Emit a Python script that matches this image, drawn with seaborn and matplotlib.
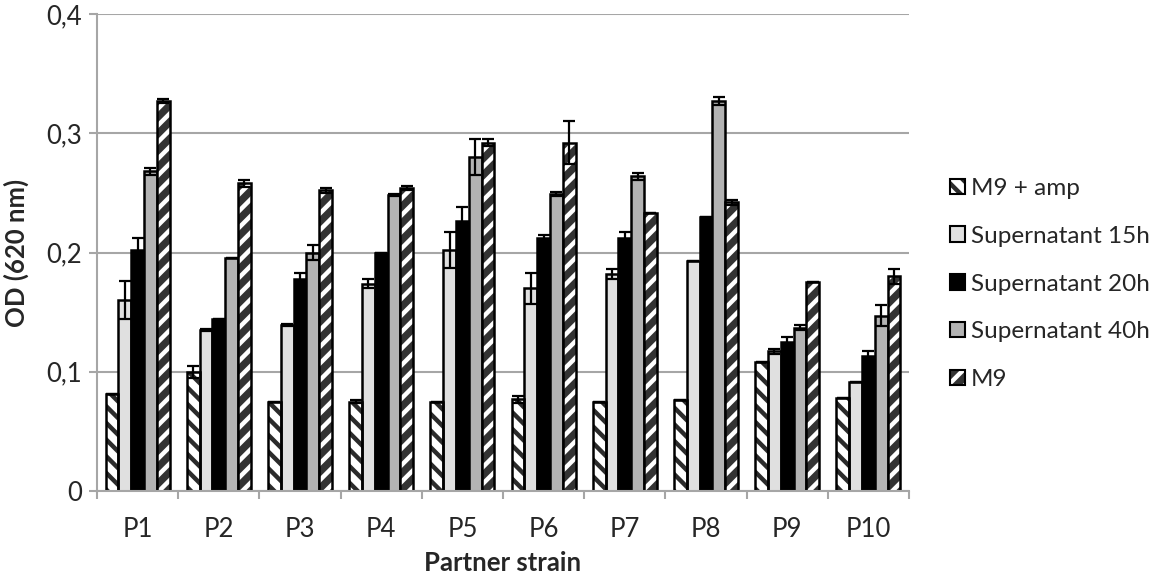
import numpy as np
import pandas as pd
import matplotlib
matplotlib.use("Agg")
import matplotlib.pyplot as plt
import seaborn as sns
from matplotlib.patches import Patch, Rectangle
from matplotlib.legend_handler import HandlerTuple
from matplotlib.ticker import FuncFormatter, FixedLocator

strains = ["P1", "P2", "P3", "P4", "P5", "P6", "P7", "P8", "P9", "P10"]
series = ["M9 + amp", "Supernatant 15h", "Supernatant 20h", "Supernatant 40h", "M9"]

m9_amp = [0.081, 0.100, 0.075, 0.075, 0.075, 0.077, 0.075, 0.076, 0.108, 0.078]
sup_15h = [0.160, 0.135, 0.139, 0.174, 0.202, 0.170, 0.182, 0.193, 0.117, 0.091]
sup_20h = [0.202, 0.144, 0.178, 0.200, 0.226, 0.212, 0.212, 0.230, 0.125, 0.113]
sup_40h = [0.268, 0.195, 0.200, 0.248, 0.280, 0.249, 0.264, 0.327, 0.137, 0.147]
m9 = [0.327, 0.258, 0.252, 0.254, 0.292, 0.292, 0.233, 0.242, 0.175, 0.180]

err_m9_amp = [0.0, 0.005, 0.0, 0.001, 0.0, 0.003, 0.0, 0.0, 0.0, 0.0]
err_15h = [0.016, 0.001, 0.001, 0.004, 0.015, 0.013, 0.004, 0.0, 0.002, 0.0]
err_20h = [0.010, 0.0, 0.005, 0.0, 0.012, 0.003, 0.005, 0.0, 0.004, 0.004]
err_40h = [0.003, 0.0, 0.006, 0.001, 0.015, 0.002, 0.003, 0.003, 0.002, 0.009]
err_m9 = [0.002, 0.003, 0.002, 0.002, 0.003, 0.018, 0.0, 0.002, 0.0, 0.006]

values = [m9_amp, sup_15h, sup_20h, sup_40h, m9]
errors = [err_m9_amp, err_15h, err_20h, err_40h, err_m9]

df = pd.DataFrame({
    "strain": np.tile(strains, len(series)),
    "series": np.repeat(series, len(strains)),
    "od": np.concatenate(values),
})

sns.set_style("white")
FONT = ["Lato", "DejaVu Sans"]
plt.rcParams["font.family"] = FONT
plt.rcParams["hatch.linewidth"] = 3.2
FS = 18.5

fig = plt.figure(figsize=(11.74, 5.85), dpi=100)
ax = fig.add_axes([97 / 1174, 1 - 491 / 585, (909 - 97) / 1174, (491 - 14) / 585])

sns.barplot(data=df, x="strain", y="od", hue="series", order=strains,
            hue_order=series, errorbar=None, width=0.79, ax=ax,
            legend=False, saturation=1)

styles = [
    dict(face="white", hatch_col="#2b2b2b", hatch="\\\\"),
    dict(face="#e0e0e0", hatch_col=None, hatch=None),
    dict(face="black", hatch_col=None, hatch=None),
    dict(face="#b3b3b3", hatch_col=None, hatch=None),
    dict(face="#333333", hatch_col="white", hatch="//"),
]

for cont, st, errs in zip(ax.containers, styles, errors):
    xs, hs = [], []
    for p in cont.patches:
        p.set_facecolor(st["face"])
        if st["hatch"]:
            p.set_hatch(st["hatch"])
            p.set_edgecolor(st["hatch_col"])
            p.set_linewidth(0)
            outline = Rectangle(p.get_xy(), p.get_width(), p.get_height(),
                                fill=False, edgecolor="black", linewidth=1.8,
                                zorder=p.get_zorder() + 0.1)
            ax.add_patch(outline)
        else:
            p.set_edgecolor("black")
            p.set_linewidth(1.8)
        xs.append(p.get_x() + p.get_width() / 2)
        hs.append(p.get_height())
    ax.errorbar(xs, hs, yerr=errs, fmt="none", ecolor="black", elinewidth=1.6,
                capsize=4, capthick=1.6, zorder=5)

ax.set_ylim(0, 0.4)
ax.set_xlim(-0.5, len(strains) - 0.5)
ax.set_yticks([0, 0.1, 0.2, 0.3, 0.4])
ax.yaxis.set_major_formatter(FuncFormatter(lambda v, _: "0" if v == 0 else f"{v:.1f}".replace(".", ",")))
ax.grid(axis="y", color="#a6a6a6", linewidth=1.5, zorder=0)
ax.set_axisbelow(True)
for s in ["top", "right"]:
    ax.spines[s].set_visible(False)
for s in ["left", "bottom"]:
    ax.spines[s].set_color("#a6a6a6")
    ax.spines[s].set_linewidth(1.5)

ax.tick_params(axis="y", which="major", length=6, width=1.5, color="#a6a6a6",
               direction="out", labelsize=FS, left=True, pad=5)
ax.tick_params(axis="x", which="major", length=0, labelsize=FS, pad=19)
ax.xaxis.set_minor_locator(FixedLocator(np.arange(-0.5, len(strains), 1.0)))
ax.tick_params(axis="x", which="minor", length=6, width=1.5, color="#a6a6a6",
               direction="out", bottom=True)

ax.set_xlabel("Partner strain", fontsize=FS, fontweight="bold", labelpad=6)
ax.set_ylabel("OD (620 nm)", fontsize=FS, fontweight="bold", labelpad=12)

handles = [
    (Patch(facecolor="white", edgecolor="#2b2b2b", hatch="\\\\", linewidth=0),
     Patch(fill=False, edgecolor="black", linewidth=1.5)),
    Patch(facecolor="#e0e0e0", edgecolor="black", linewidth=1.5),
    Patch(facecolor="black", edgecolor="black", linewidth=1.5),
    Patch(facecolor="#b3b3b3", edgecolor="black", linewidth=1.5),
    (Patch(facecolor="#333333", edgecolor="white", hatch="//", linewidth=0),
     Patch(fill=False, edgecolor="black", linewidth=1.5)),
]
fig.legend(handles, series, loc="center left", bbox_to_anchor=(950 / 1174, 1 - 284 / 585),
           frameon=False, fontsize=17.5, handlelength=0.6, handleheight=0.6,
           handletextpad=0.25, labelspacing=1.1, borderpad=0, borderaxespad=0,
           handler_map={tuple: HandlerTuple(ndivide=1)})

fig.savefig("out.png", dpi=100)
